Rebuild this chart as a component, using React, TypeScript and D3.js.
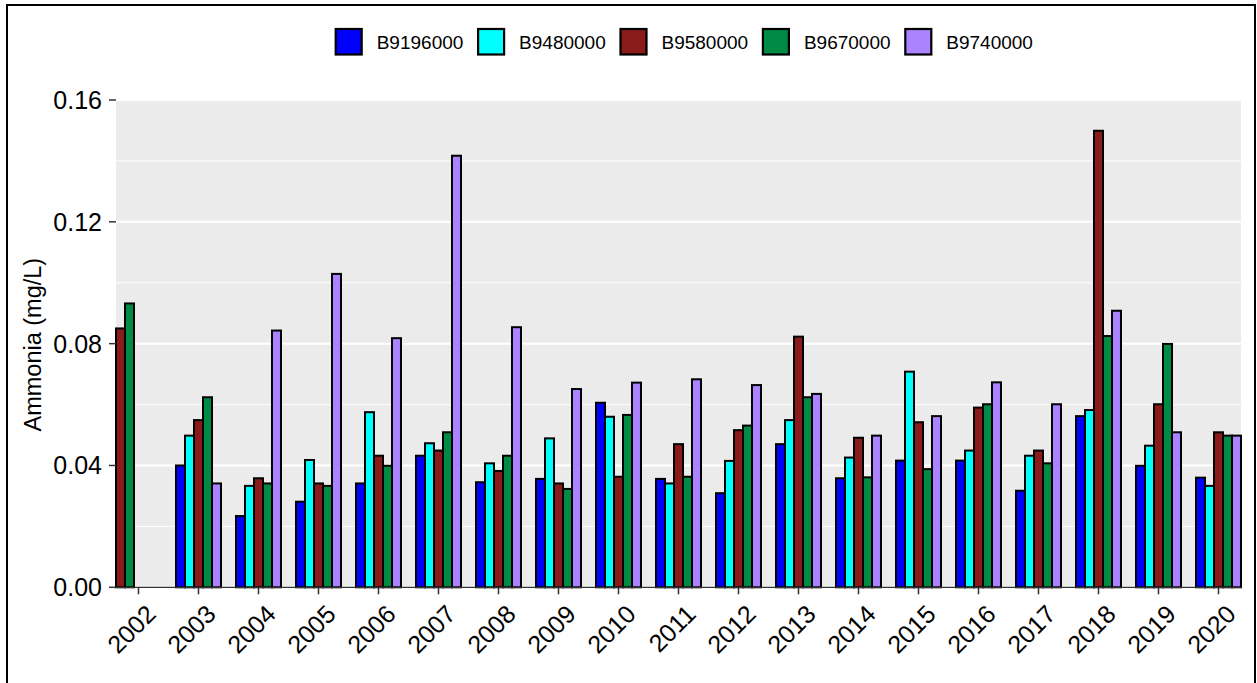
import React from "react";
import * as d3 from "d3";

const years = ["2002","2003","2004","2005","2006","2007","2008","2009","2010","2011","2012","2013","2014","2015","2016","2017","2018","2019","2020"];
const seriesNames = ["B9196000","B9480000","B9580000","B9670000","B9740000"];
const seriesColors = ["#0000FF","#00FFFF","#8B1A1A","#008B45","#AB82FF"];

const B9196000 = [null,0.0400,0.0234,0.0281,0.0341,0.0432,0.0345,0.0356,0.0606,0.0356,0.0309,0.0470,0.0358,0.0416,0.0416,0.0317,0.0562,0.0399,0.0360];
const B9480000 = [null,0.0498,0.0333,0.0418,0.0575,0.0473,0.0407,0.0489,0.0560,0.0341,0.0415,0.0549,0.0426,0.0708,0.0449,0.0432,0.0582,0.0465,0.0333];
const B9580000 = [0.0850,0.0549,0.0358,0.0341,0.0432,0.0449,0.0382,0.0341,0.0363,0.0470,0.0516,0.0823,0.0491,0.0542,0.0590,0.0449,0.1499,0.0601,0.0509];
const B9670000 = [0.0932,0.0624,0.0341,0.0333,0.0399,0.0509,0.0432,0.0323,0.0566,0.0363,0.0531,0.0624,0.0361,0.0388,0.0601,0.0407,0.0825,0.0799,0.0498];
const B9740000 = [null,0.0341,0.0843,0.1029,0.0818,0.1417,0.0854,0.0651,0.0672,0.0683,0.0664,0.0635,0.0498,0.0562,0.0673,0.0601,0.0908,0.0509,0.0498];
const seriesValues = [B9196000, B9480000, B9580000, B9670000, B9740000];

const yTicks = [0, 0.04, 0.08, 0.12, 0.16];
const yMinor = [0.02, 0.06, 0.10, 0.14];
const yLabel = "Ammonia (mg/L)";

const W = 1257, H = 683;
const panel = { left: 116, right: 1241, top: 100, bottom: 587.3 };
const FONT = "'Liberation Sans', Arial, Helvetica, sans-serif";

export default function App() {
  const x = d3.scaleBand<string>().domain(years).range([panel.left, panel.right]).paddingInner(0.25).paddingOuter(0);
  const slot = d3.scaleBand<number>().domain(d3.range(seriesNames.length)).range([0, x.bandwidth()]).padding(0);
  const y = d3.scaleLinear().domain([0, 0.16]).range([panel.bottom, panel.top]);

  const bars: any[] = [];
  years.forEach((yr, i) => {
    let k = 0;
    seriesValues.forEach((vals, s) => {
      const v = vals[i];
      if (v == null) return;
      bars.push({ key: yr + s, x: (x(yr) as number) + (slot(k) as number), w: slot.bandwidth(), y: y(v), h: y(0) - y(v), fill: seriesColors[s] });
      k++;
    });
  });

  const legendStep = 142.4;
  const legendStart = (panel.left + panel.right) / 2 - (legendStep * (seriesNames.length - 1) + 27 + 14 + 87) / 2 + 6;

  return (
    <svg width={W} height={H} style={{ position: "absolute", left: 0, top: 0, background: "#fff" }} fontFamily={FONT}>
      <rect x={0} y={0} width={W} height={H} fill="#fff" />
      <rect x={7} y={5} width={1248} height={720} fill="none" stroke="#000" strokeWidth={2} />
      <rect x={panel.left} y={panel.top} width={panel.right - panel.left} height={panel.bottom - panel.top} fill="#EBEBEB" />
      {yMinor.map((t) => (
        <line key={"mn" + t} x1={panel.left} x2={panel.right} y1={y(t)} y2={y(t)} stroke="#fff" strokeWidth={1} />
      ))}
      {yTicks.map((t) => (
        <line key={"mj" + t} x1={panel.left} x2={panel.right} y1={y(t)} y2={y(t)} stroke="#fff" strokeWidth={2} />
      ))}
      {bars.map((b) => (
        <rect key={b.key} x={b.x} y={b.y} width={b.w} height={b.h} fill={b.fill} stroke="#000" strokeWidth={2} />
      ))}
      <line x1={panel.left} x2={panel.right} y1={panel.bottom} y2={panel.bottom} stroke="#333" strokeWidth={1.2} />
      {yTicks.map((t) => (
        <g key={"yt" + t}>
          <line x1={panel.left - 7} x2={panel.left} y1={y(t)} y2={y(t)} stroke="#333" strokeWidth={1.5} />
          <text x={102} y={y(t)} dy="0.36em" textAnchor="end" fontSize={25} fill="#000">{d3.format(".2f")(t)}</text>
        </g>
      ))}
      {years.map((yr) => {
        const cx = (x(yr) as number) + x.bandwidth() / 2;
        return (
          <g key={"xt" + yr}>
            <line x1={cx} x2={cx} y1={panel.bottom} y2={panel.bottom + 7} stroke="#333" strokeWidth={1.5} />
            <text transform={`translate(${cx + 6},${603}) rotate(-45)`} textAnchor="end" dy="0.72em" fontSize={25} fill="#000">{yr}</text>
          </g>
        );
      })}
      <text transform={`translate(41,${(panel.top + panel.bottom) / 2 + 1}) rotate(-90)`} textAnchor="middle" fontSize={23.5} fill="#000">{yLabel}</text>
      {seriesNames.map((n, i) => {
        const lx = legendStart + i * legendStep;
        return (
          <g key={"lg" + n}>
            <rect x={lx} y={29} width={26} height={25.5} fill={seriesColors[i]} stroke="#000" strokeWidth={2.2} />
            <text x={lx + 41} y={42} dy="0.36em" fontSize={19} fill="#000">{n}</text>
          </g>
        );
      })}
    </svg>
  );
}
